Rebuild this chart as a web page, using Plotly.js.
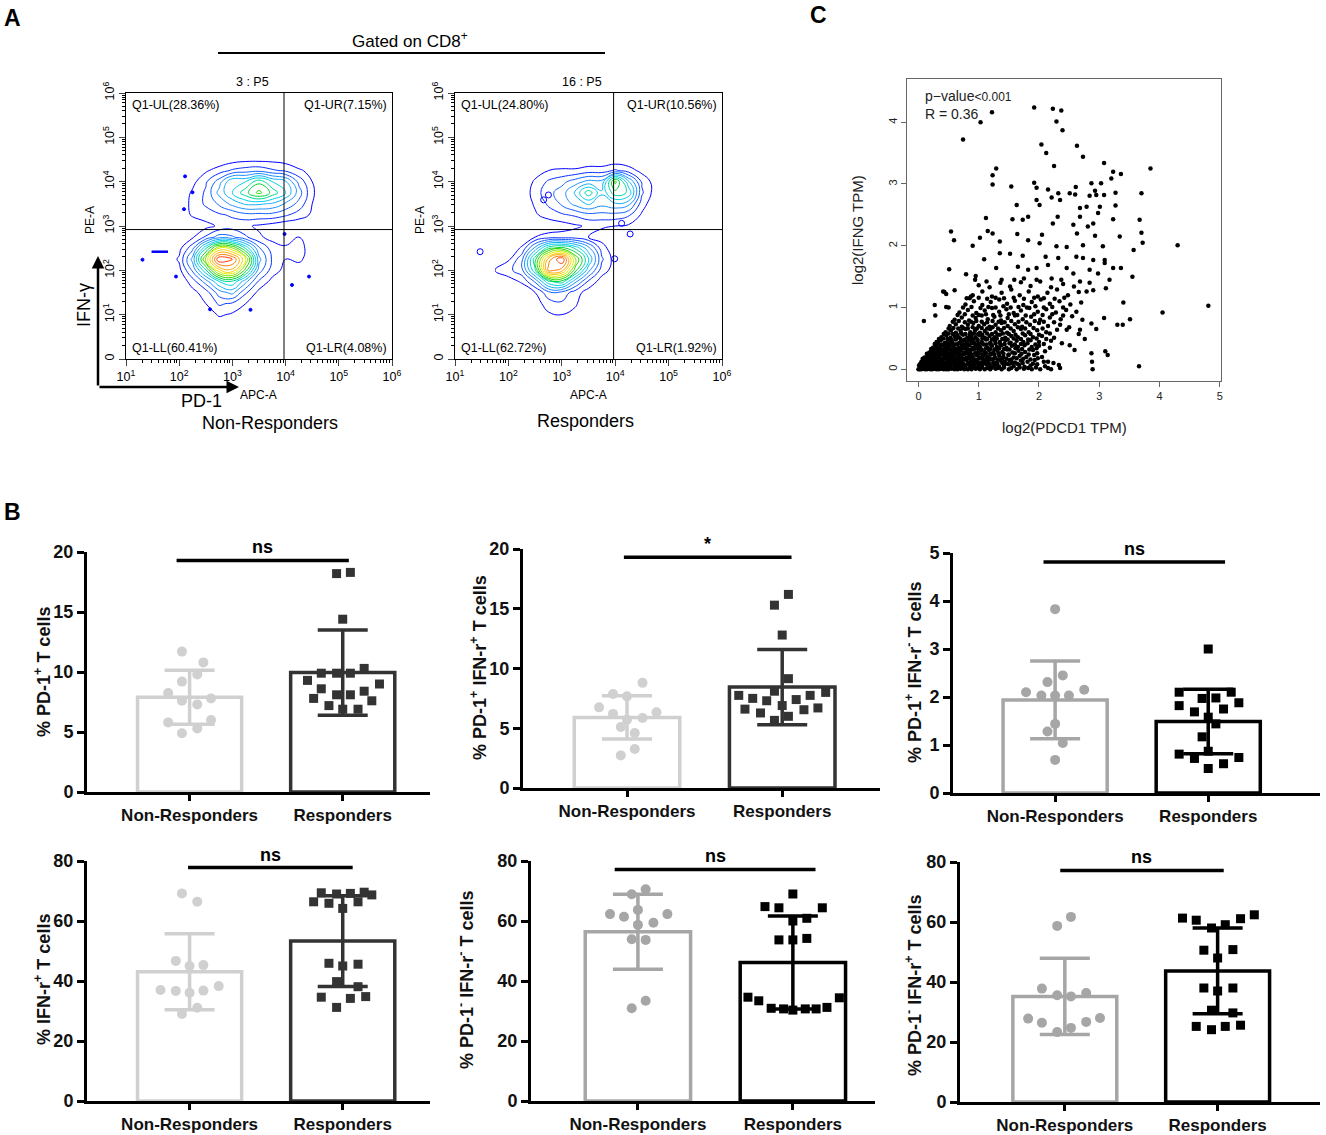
<!DOCTYPE html>
<html><head><meta charset="utf-8">
<script src="https://cdn.plot.ly/plotly-3.0.1.min.js"></script>
<style>body{margin:0;background:#fff}#chart{width:1326px;height:1135px}</style>
</head><body><div id="chart"></div>
<script>
// ===================== DATA =====================
// Panel A: flow cytometry density grids (log10 decades)
const flowLogX = [1.75,2,2.25,2.5,2.75,3,3.25,3.5,3.75,4,4.25,4.5,4.75];
const flowLogY = [0.75,1,1.25,1.5,1.75,2,2.25,2.5,2.75,3,3.25,3.5,3.75,4,4.25,4.5,4.75];
const nrDensity = [
 [0,0,0,0,0,0,0,0,0,0,0,0,0],
 [0,0,0,0,0.6,0.4,0,0,0,0,0,0,0],
 [0,0,0,0.5,1.2,1.0,0.5,0,0,0,0,0,0],
 [0,0,0.3,0.8,2.0,2.5,1.2,0.3,0,0,0,0,0],
 [0,0,0.8,2.0,3.5,4.0,2.5,1.0,0.3,0,0,0,0],
 [0,0.3,1.8,4.0,7.0,7.5,5.0,2.0,0.8,0.3,0,0,0],
 [0,0.6,2.5,6.0,9.5,9.0,6.5,2.5,1.0,0.5,0.7,0,0],
 [0,0.3,1.5,4.0,6.5,6.0,4.0,1.8,0.8,0.6,0.9,0,0],
 [0,0,0.4,1.2,2.0,1.8,1.2,0.6,0.3,0.2,0.5,0,0],
 [0,0,0,0.3,0.6,0.8,0.6,0.4,0.2,0,0,0,0],
 [0,0,0.6,0.8,1.0,1.2,1.5,1.5,1.5,1.2,0.8,0.4,0],
 [0,0,0.7,1.2,1.8,2.5,3.0,3.0,2.8,2.2,1.5,0.5,0],
 [0,0,0.6,1.2,2.5,3.5,4.5,5.5,4.5,3.5,2.0,0.6,0],
 [0,0,0.3,1.0,2.0,3.5,3.5,4.5,3.5,3.0,1.5,0.5,0],
 [0,0,0,0.4,0.8,1.2,1.4,1.5,1.2,1.0,0.6,0.3,0],
 [0,0,0,0,0,0.2,0.3,0.3,0.3,0.2,0,0,0],
 [0,0,0,0,0,0,0,0,0,0,0,0,0]
];
const rDensity = [
 [0,0,0,0,0,0,0,0,0,0,0,0,0],
 [0,0,0,0,0.4,0.5,0.3,0,0,0,0,0,0],
 [0,0,0,0.2,0.8,1.0,0.6,0,0,0,0,0,0],
 [0,0,0,0.5,1.5,1.5,0.8,0.2,0,0,0,0,0],
 [0,0.2,0.6,1.8,4.0,4.5,2.5,1.0,0.2,0,0,0,0],
 [0.5,0.9,1.5,4.0,8.5,8.0,5.0,2.5,0.8,0.2,0,0,0],
 [0,0.4,1.5,4.5,8.0,9.5,6.0,3.5,1.2,0.2,0,0,0],
 [0,0,0.6,2.5,4.5,5.0,4.0,2.5,0.8,0,0,0,0],
 [0,0,0,0.5,0.8,0.8,0.8,0.5,0.2,0,0,0,0],
 [0,0,0,0,0,0.2,0.4,0.6,0.6,0.5,0.4,0,0],
 [0,0,0,0.4,0.8,1.0,1.2,1.5,1.5,1.5,1.2,0.4,0],
 [0,0,0,0.6,1.2,1.8,2.5,3.0,2.5,2.8,2.5,0.8,0],
 [0,0,0,0.8,1.5,2.0,3.0,4.5,3.0,4.5,4.0,1.2,0.2],
 [0,0,0,0.6,1.2,1.5,2.0,2.5,2.5,5.5,3.0,1.0,0.2],
 [0,0,0,0.2,0.5,0.6,0.6,0.8,0.8,1.2,0.8,0.3,0],
 [0,0,0,0,0,0,0,0,0,0,0,0,0],
 [0,0,0,0,0,0,0,0,0,0,0,0,0]
];
const nrStrayX = [2.11,2.25,2.09,1.31,1.94,2.58,3.34,4.12,4.44,3.98];
const nrStrayY = [4.12,3.76,3.38,2.24,1.86,1.12,1.11,1.67,1.86,2.82];
const nrDashX = [1.48,1.79];
const nrDashY = [2.42,2.42];
const rStrayX = [1.47,3.99,4.28,2.66,2.75,4.12];
const rStrayY = [2.42,2.26,2.82,3.59,3.70,3.06];
const nrQuadLabels = ['Q1-UL(28.36%)','Q1-UR(7.15%)','Q1-LL(60.41%)','Q1-LR(4.08%)'];
const rQuadLabels  = ['Q1-UL(24.80%)','Q1-UR(10.56%)','Q1-LL(62.72%)','Q1-LR(1.92%)'];
const flowTitles = ['3 : P5','16 : P5'];
const flowGroupNames = ['Non-Responders','Responders'];
const flowXTickVals = [1,2,3,4,5,6];
const flowXTickText = ['10<sup>1</sup>','10<sup>2</sup>','10<sup>3</sup>','10<sup>4</sup>','10<sup>5</sup>','10<sup>6</sup>'];
const flowYTickVals = [0,1,2,3,4,5,6];
const flowYTickText = ['0','10<sup>1</sup>','10<sup>2</sup>','10<sup>3</sup>','10<sup>4</sup>','10<sup>5</sup>','10<sup>6</sup>'];

// Panel C: log2(PDCD1 TPM) vs log2(IFNG TPM)
const scatterPairs = [
[0,0],[0.02,0],[0.05,0],[0.08,0.01],[0.11,0],[0.14,0],[0.17,0.01],[0.2,0],[0.23,0],[0.27,0.01],[0.3,0],[0.34,0],[0.38,0.01],[0.42,0],[0.46,0],[0.5,0],[0.55,0.01],[0.6,0],[0.65,0],[0.7,0.01],[0.76,0],[0.82,0],[0.88,0],[0.95,0.01],[1.02,0],[1.1,0],[1.19,0],[1.28,0.01],[1.38,0],[1.5,0],[1.63,0],[1.75,0.01],[1.88,0],[2.02,0],[2.2,0],[2.35,0.02],
[0.03,0.03],[0.09,0.02],[0.15,0.03],[0.21,0.02],[0.28,0.03],[0.35,0.02],[0.41,0.03],[0.47,0.02],[0.53,0.03],[0.59,0.02],[0.64,0.03],[0.7,0.02],[0.78,0.03],[0.85,0.02],[0.91,0.03],[0.98,0.02],[1.05,0.03],[1.14,0.02],[1.23,0.03],[1.32,0.02],[1.42,0.03],[1.54,0.02],[1.68,0.03],[1.82,0.02],[1.95,0.03],
[0.01,0.06],[0.04,0.04],[0.07,0.07],[0.1,0.05],[0.13,0.08],[0.16,0.04],[0.19,0.06],[0.22,0.08],[0.25,0.05],[0.29,0.07],[0.33,0.04],[0.36,0.08],[0.4,0.05],[0.44,0.07],[0.48,0.04],[0.52,0.06],[0.57,0.08],[0.61,0.05],[0.66,0.07],[0.71,0.04],[0.76,0.06],[0.81,0.08],[0.87,0.05],[0.93,0.07],[0.99,0.04],[1.06,0.06],[1.13,0.08],[1.2,0.05],[1.27,0.07],[1.34,0.04],[1.42,0.06],[1.5,0.08],[1.58,0.05],[1.67,0.07],[1.76,0.04],[1.86,0.06],[1.97,0.08],[2.1,0.05],
[0.03,0.09],[0.08,0.1],[0.14,0.09],[0.2,0.1],[0.26,0.09],[0.31,0.1],[0.38,0.09],[0.43,0.1],[0.5,0.09],[0.55,0.1],[0.6,0.09],[0.69,0.1],[0.74,0.09],[0.84,0.1],[0.9,0.09],[0.96,0.1],[1.01,0.09],[1.09,0.1],[1.17,0.09],[1.24,0.1],[1.31,0.09],[1.39,0.1],[1.47,0.09],[1.55,0.1],[1.64,0.09],[1.73,0.1],[1.9,0.09],
[0.05,0.12],[0.09,0.15],[0.12,0.11],[0.16,0.14],[0.2,0.12],[0.24,0.15],[0.28,0.11],[0.32,0.14],[0.36,0.12],[0.4,0.16],[0.44,0.11],[0.48,0.14],[0.53,0.12],[0.58,0.15],[0.62,0.11],[0.67,0.14],[0.72,0.12],[0.77,0.16],[0.82,0.11],[0.87,0.14],[0.92,0.12],[0.98,0.15],[1.04,0.11],[1.1,0.14],[1.16,0.12],[1.22,0.16],[1.29,0.11],[1.36,0.14],[1.43,0.12],[1.51,0.15],[1.6,0.11],[1.7,0.14],[1.81,0.12],[1.93,0.15],[2.08,0.12],[2.24,0.1],
[0.07,0.17],[0.13,0.18],[0.18,0.16],[0.22,0.17],[0.26,0.16],[0.3,0.18],[0.34,0.17],[0.38,0.16],[0.42,0.18],[0.46,0.17],[0.5,0.16],[0.55,0.18],[0.6,0.17],[0.64,0.16],[0.69,0.18],[0.74,0.17],[0.79,0.16],[0.84,0.18],[0.89,0.17],[0.94,0.16],[1.0,0.18],[1.06,0.17],[1.12,0.16],[1.18,0.18],[1.25,0.17],[1.32,0.16],[1.39,0.18],[1.46,0.17],[1.54,0.16],[1.63,0.18],[1.74,0.17],[1.86,0.16],[1.98,0.18],
[0.1,0.19],[0.15,0.22],[0.19,0.2],[0.23,0.23],[0.27,0.19],[0.31,0.22],[0.35,0.2],[0.39,0.24],[0.43,0.19],[0.47,0.22],[0.51,0.2],[0.56,0.23],[0.6,0.19],[0.65,0.22],[0.7,0.2],[0.75,0.24],[0.8,0.19],[0.85,0.22],[0.9,0.2],[0.96,0.23],[1.02,0.19],[1.08,0.22],[1.14,0.2],[1.2,0.24],[1.27,0.19],[1.34,0.22],[1.41,0.2],[1.49,0.23],[1.58,0.19],[1.68,0.22],[1.79,0.2],[1.92,0.23],[2.05,0.2],
[0.14,0.25],[0.2,0.26],[0.25,0.24],[0.29,0.25],[0.34,0.26],[0.39,0.25],[0.44,0.24],[0.49,0.26],[0.53,0.25],[0.58,0.24],[0.63,0.26],[0.68,0.25],[0.73,0.24],[0.78,0.26],[0.83,0.25],[0.88,0.24],[0.94,0.26],[1.0,0.25],[1.06,0.24],[1.12,0.26],[1.19,0.25],[1.26,0.24],[1.33,0.26],[1.41,0.25],[1.5,0.24],[1.6,0.26],[1.71,0.25],[1.83,0.24],[1.97,0.26],
[0.18,0.27],[0.22,0.3],[0.27,0.28],[0.32,0.31],[0.37,0.27],[0.42,0.3],[0.46,0.28],[0.5,0.32],[0.55,0.27],[0.6,0.3],[0.65,0.28],[0.7,0.31],[0.75,0.27],[0.8,0.3],[0.86,0.28],[0.92,0.32],[0.98,0.27],[1.04,0.3],[1.1,0.28],[1.17,0.31],[1.24,0.27],[1.31,0.3],[1.39,0.28],[1.47,0.32],[1.56,0.27],[1.66,0.3],[1.77,0.28],[1.9,0.31],[2.1,0.29],
[0.21,0.33],[0.27,0.34],[0.33,0.33],[0.39,0.32],[0.44,0.34],[0.49,0.33],[0.54,0.32],[0.59,0.34],[0.64,0.33],[0.69,0.32],[0.75,0.34],[0.81,0.33],[0.87,0.32],[0.93,0.34],[0.99,0.33],[1.05,0.32],[1.12,0.34],[1.19,0.33],[1.26,0.32],[1.34,0.34],[1.42,0.33],[1.51,0.32],[1.61,0.34],[1.72,0.33],[1.84,0.32],[1.96,0.34],
[0.24,0.35],[0.3,0.38],[0.36,0.36],[0.41,0.39],[0.46,0.35],[0.51,0.38],[0.57,0.36],[0.62,0.4],[0.67,0.35],[0.72,0.38],[0.78,0.36],[0.84,0.39],[0.9,0.35],[0.96,0.38],[1.02,0.36],[1.08,0.4],[1.15,0.35],[1.22,0.38],[1.3,0.36],[1.38,0.39],[1.46,0.35],[1.55,0.38],[1.65,0.36],[1.76,0.39],[1.88,0.36],[2.0,0.38],[2.18,0.35],
[0.27,0.41],[0.33,0.42],[0.39,0.4],[0.47,0.41],[0.53,0.42],[0.59,0.4],[0.65,0.41],[0.7,0.42],[0.76,0.4],[0.82,0.41],[0.88,0.42],[0.94,0.4],[1.0,0.41],[1.06,0.42],[1.13,0.4],[1.2,0.41],[1.28,0.42],[1.36,0.4],[1.43,0.41],[1.51,0.42],[1.6,0.4],[1.7,0.41],[1.81,0.42],[1.94,0.4],[2.08,0.41],
[0.3,0.44],[0.37,0.47],[0.44,0.43],[0.5,0.46],[0.56,0.44],[0.62,0.48],[0.68,0.43],[0.74,0.46],[0.8,0.44],[0.86,0.47],[0.92,0.43],[0.98,0.46],[1.05,0.44],[1.12,0.48],[1.19,0.43],[1.27,0.46],[1.35,0.44],[1.44,0.47],[1.53,0.43],[1.63,0.46],[1.74,0.44],[1.86,0.47],[2.0,0.44],[2.2,0.46],[2.38,0.42],
[0.34,0.49],[0.41,0.5],[0.48,0.49],[0.55,0.48],[0.62,0.5],[0.7,0.49],[0.77,0.48],[0.84,0.5],[0.91,0.49],[0.98,0.48],[1.06,0.5],[1.14,0.49],[1.22,0.48],[1.3,0.5],[1.39,0.49],[1.48,0.48],[1.58,0.5],[1.7,0.49],[1.82,0.48],[1.96,0.5],[2.12,0.49],
[0.38,0.52],[0.46,0.55],[0.53,0.51],[0.6,0.54],[0.67,0.52],[0.74,0.56],[0.81,0.51],[0.88,0.54],[0.95,0.52],[1.02,0.55],[1.1,0.51],[1.18,0.54],[1.26,0.52],[1.35,0.56],[1.44,0.51],[1.54,0.54],[1.65,0.52],[1.77,0.55],[1.9,0.52],[2.05,0.54],[2.25,0.51],
[0.42,0.57],[0.5,0.58],[0.57,0.57],[0.64,0.56],[0.71,0.58],[0.78,0.57],[0.85,0.56],[0.92,0.58],[0.99,0.57],[1.06,0.56],[1.14,0.58],[1.22,0.57],[1.31,0.56],[1.4,0.58],[1.5,0.57],[1.61,0.56],[1.73,0.58],[1.86,0.57],[2.0,0.56],[2.18,0.58],
[0.45,0.6],[0.54,0.63],[0.62,0.59],[0.7,0.62],[0.78,0.65],[0.86,0.6],[0.94,0.63],[1.02,0.59],[1.1,0.62],[1.19,0.65],[1.28,0.6],[1.37,0.63],[1.47,0.59],[1.58,0.62],[1.7,0.65],[1.83,0.6],[1.97,0.63],[2.12,0.6],[2.3,0.64],
[0.5,0.66],[0.58,0.67],[0.66,0.66],[0.74,0.67],[0.82,0.66],[0.9,0.68],[0.97,0.66],[1.05,0.67],[1.14,0.66],[1.23,0.68],[1.32,0.66],[1.42,0.67],[1.53,0.66],[1.65,0.68],[1.77,0.66],[1.91,0.67],[2.06,0.66],
[0.52,0.7],[0.62,0.73],[0.72,0.69],[0.82,0.72],[0.91,0.75],[1.0,0.7],[1.09,0.73],[1.18,0.69],[1.28,0.72],[1.38,0.75],[1.48,0.7],[1.6,0.73],[1.72,0.69],[1.85,0.72],[2.0,0.75],[2.15,0.7],[2.35,0.72],[2.5,0.68],
[0.57,0.77],[0.67,0.78],[0.77,0.76],[0.87,0.77],[0.96,0.78],[1.05,0.77],[1.14,0.76],[1.23,0.78],[1.33,0.77],[1.43,0.76],[1.54,0.78],[1.66,0.77],[1.79,0.76],[1.93,0.78],[2.08,0.77],[2.25,0.76],
[0.6,0.8],[0.72,0.84],[0.84,0.79],[0.95,0.83],[1.05,0.87],[1.15,0.81],[1.26,0.85],[1.37,0.79],[1.48,0.83],[1.6,0.87],[1.73,0.81],[1.87,0.85],[2.02,0.8],[2.18,0.84],[2.36,0.81],[2.55,0.86],
[0.65,0.88],[0.77,0.89],[0.9,0.87],[1.0,0.88],[1.12,0.89],[1.24,0.88],[1.36,0.87],[1.5,0.89],[1.64,0.88],[1.78,0.87],[1.92,0.89],[2.06,0.88],[2.22,0.89],[2.4,0.87],
[0.68,0.92],[0.82,0.96],[0.96,0.91],[1.1,0.95],[1.22,0.99],[1.34,0.93],[1.46,0.97],[1.58,0.91],[1.7,0.95],[1.84,0.99],[1.98,0.93],[2.12,0.97],[2.28,0.92],[2.45,0.96],[2.62,0.93],
[0.74,1.0],[0.88,1.01],[1.03,0.99],[1.16,1.01],[1.28,1.0],[1.41,1.02],[1.53,1.0],[1.66,1.01],[1.8,1.0],[1.94,1.02],[2.08,1.0],[2.22,1.01],[2.4,1.0],
[0.78,1.05],[0.92,1.1],[1.06,1.04],[1.2,1.09],[1.34,1.13],[1.47,1.06],[1.6,1.11],[1.74,1.04],[1.88,1.09],[2.03,1.13],[2.18,1.06],[2.34,1.1],[2.52,1.05],[2.7,1.08],
[0.85,1.15],[1.0,1.16],[1.14,1.14],[1.28,1.16],[1.42,1.15],[1.58,1.16],[1.75,1.14],[1.92,1.16],[2.08,1.15],[2.26,1.14],[2.42,1.16],
[0.9,1.2],[1.06,1.26],[1.22,1.18],[1.38,1.24],[1.54,1.29],[1.68,1.2],[1.83,1.26],[1.98,1.18],[2.14,1.24],[2.3,1.29],[2.48,1.2],[2.66,1.25],
[1.0,1.36],[1.18,1.33],[1.36,1.4],[1.52,1.34],[1.7,1.41],[1.86,1.35],[2.02,1.42],[2.2,1.33],[2.4,1.38],[2.58,1.34],
[1.92,4.24],[2.23,4.22],[2.37,4.19],[1.22,4.16],[1.03,4.0],[2.29,4.01],[2.39,3.87],[0.74,3.72],[2.04,3.64],[2.12,3.5],[2.63,3.62],[2.73,3.44],[2.25,3.29],[3.08,3.34],[1.29,3.25],[3.85,3.25],[1.23,3.14],[1.23,2.99],[3.23,3.2],[3.36,3.16],[3.2,3.09],[1.92,3.02],[1.54,2.96],[1.96,2.94],[2.15,2.91],[2.61,2.95],[2.87,3.01],[3.03,3.01],[2.93,2.89],[2.51,2.85],[2.32,2.85],[2.35,2.74],[2.21,2.78],[2.6,2.83],[2.84,2.81],[2.95,2.82],[3.08,2.82],[3.27,2.86],[3.7,2.85],[1.96,2.74],[2.01,2.66],[1.63,2.66],[2.79,2.63],[3.01,2.63],[3.27,2.65],[2.68,2.47],[2.98,2.53],[1.12,2.45],[1.56,2.43],[1.73,2.42],[2.31,2.47],[1.82,2.47],[2.68,2.61],[2.9,2.36],[3.23,2.43],[3.67,2.42],[2.23,2.36],[2.57,2.34],[2.81,2.31],[1.15,2.24],[1.64,2.19],[1.23,2.2],[3.7,2.21],[0.54,2.23],[2.05,2.18],[2.63,2.2],[2.93,2.16],[3.34,2.15],[0.59,2.09],[1.02,2.13],[3.72,2.05],[4.3,2.01],[3.57,1.93],[0.9,2.0],[1.35,2.07],[1.82,2.09],[2.01,2.04],[2.29,1.99],[2.46,1.98],[2.73,2.01],[3.06,1.99],[1.35,1.88],[1.52,1.87],[1.73,1.84],[1.09,1.78],[2.11,1.82],[2.32,1.8],[2.62,1.82],[2.73,1.8],[3.09,1.77],[3.09,1.72],[2.9,1.77],[3.36,1.64],[3.23,1.64],[0.51,1.62],[1.29,1.64],[1.65,1.66],[1.82,1.61],[1.96,1.64],[2.15,1.69],[2.46,1.64],[2.57,1.55],[2.84,1.61],[2.98,1.55],[3.55,1.5],[0.79,1.54],[0.95,1.51],[0.94,1.45],[1.13,1.42],[1.38,1.45],[1.59,1.45],[1.75,1.47],[1.96,1.45],[2.21,1.47],[2.37,1.45],[2.68,1.42],[2.84,1.4],[3.17,1.45],[0.6,1.28],[0.41,1.26],[0.46,1.22],[3.11,1.31],[2.79,1.26],[2.9,1.28],[0.8,1.15],[0.87,1.18],[3.4,1.08],[4.81,1.03],[4.05,0.92],[0.46,1.01],[0.27,1.04],[3.08,0.83],[3.51,0.81],[3.39,0.72],[2.87,0.74],[3.3,0.72],[2.72,0.8],[2.68,0.64],[2.66,0.57],[2.76,0.49],[2.95,0.65],[2.46,0.64],[2.51,0.39],[2.59,0.31],[2.87,0.26],[3.1,0.29],[3.14,0.23],[2.88,0.12],[2.15,0.12],[2.33,0.07],[2.15,0.02],[3.66,0.05],[2.89,0.0],[0.09,0.78],[0.28,0.87],[0.43,1.25],[0.5,1.0]
];

// Panel B: per-patient percentages (NR = Non-Responders, R = Responders)
const groups = ['Non-Responders','Responders'];
const pd1PosNR = [11.7,10.8,9.8,9.2,8.25,7.6,7.8,7.3,5.8,6.0,4.9,5.3];
const pd1PosR  = [18.2,18.3,14.4,9.9,9.9,9.9,10.3,9.3,9.0,8.6,7.8,8.1,8.1,8.4,7.6,7.2,6.9,6.9];
const pd1PosMean = [7.9,9.95], pd1PosSD = [2.25,3.55];

const pd1PosIfnPosNR = [7.87,7.67,8.8,6.75,6.2,6.33,5.72,5.86,5.1,4.6,3.26,2.73];
const pd1PosIfnPosR  = [16.2,15.3,12.8,9.15,7.75,7.5,7.3,8.1,7.4,7.75,8.0,6.6,6.28,6.9,6.55,6.7,5.66,6.0];
const pd1PosIfnPosMean = [5.9,8.45], pd1PosIfnPosSD = [1.81,3.15];

const pd1PosIfnNegNR = [3.83,2.45,2.31,2.10,2.03,2.03,2.03,2.15,1.44,1.28,1.04,0.69];
const pd1PosIfnNegR  = [3.0,2.10,2.10,1.97,1.98,1.82,1.88,1.69,1.75,1.58,1.44,1.17,0.81,0.87,0.72,0.74,0.61,0.51];
const pd1PosIfnNegMean = [1.94,1.49], pd1PosIfnNegSD = [0.81,0.67];

const ifnPosNR = [69.2,66.4,46.7,45,45.3,37,36.7,36.1,36.8,38.3,31.1,29];
const ifnPosR  = [66.4,69.4,69,69.2,69.6,65.9,66.4,68.7,64.2,45.9,45,45.6,39.8,38.1,34.6,34.2,34.8,31.2];
const ifnPosMean = [43.1,53.3], ifnPosSD = [12.65,15.1];

const pd1NegIfnNegNR = [70.6,68.9,63.7,62.3,61.4,62.3,59.4,58.7,53.9,53.7,33.4,30.9];
const pd1NegIfnNegR  = [69,64.8,64.4,64.4,60,60.9,53.7,53.7,54.2,34.6,33.4,30.9,30.7,30.3,30.7,30.7,31.2,34.4];
const pd1NegIfnNegMean = [56.4,46.2], pd1NegIfnNegSD = [12.5,15.5];

const pd1NegIfnPosNR = [61.7,58.7,37.8,35.6,35.2,36.3,27.8,26.4,26.7,28,23.3,24.7];
const pd1NegIfnPosR  = [61.3,60.6,58,59.1,61.1,62.4,50.6,50.8,48,38,37,38,30.6,29.7,25.2,24.1,25.2,25.6];
const pd1NegIfnPosMean = [35.2,43.7], pd1NegIfnPosSD = [12.7,14.3];

const sigLabels = ['ns','*','ns','ns','ns','ns'];
const yTitles = ['% PD-1<sup>+</sup> T cells','% PD-1<sup>+</sup> IFN-r<sup>+</sup> T cells','% PD-1<sup>+</sup> IFN-r<sup>-</sup> T cells',
                 '% IFN-r<sup>+</sup> T cells','% PD-1<sup>-</sup> IFN-r<sup>-</sup> T cells','% PD-1<sup>-</sup> IFN-r<sup>+</sup> T cells'];

// ===================== LAYOUT / STYLE =====================
const W=1326, H=1135;
const fx = p => p/W, fy = p => 1 - p/H;
const FONT = 'Liberation Sans, Arial, Helvetica, sans-serif';

// dot horizontal scatter offsets (category units), styling only
const jit = [
 {nr:[-0.05,0.09,0.05,-0.05,-0.14,-0.05,0.14,0.05,-0.14,0.14,-0.05,0.05],
  r:[-0.04,0.05,0,-0.14,-0.04,0.05,0.14,-0.23,0.24,-0.14,-0.19,-0.04,0.05,0.14,0.19,-0.09,0,0.1]},
 {nr:[-0.09,0,0.1,-0.18,-0.09,0.19,0,0.1,-0.04,0.05,0.05,-0.04],
  r:[0.04,-0.05,0,0.04,-0.28,-0.19,-0.1,-0.05,0.09,0.18,0.28,-0.24,-0.14,0,0.14,0.23,-0.05,0.04]},
 {nr:[0,0.05,-0.05,-0.19,-0.09,0,0.09,0.19,0,-0.05,0.05,0],
  r:[0,-0.19,0.15,-0.04,0.05,-0.19,0.2,-0.09,0.1,0,0.05,-0.04,-0.19,0,-0.09,0.2,0.1,0]},
 {nr:[-0.05,0.05,-0.09,0,0.09,-0.19,-0.09,0,0.09,0.19,0.05,-0.05],
  r:[-0.19,-0.14,-0.04,0.05,0.14,-0.09,0.1,0.19,0,-0.09,0,0.1,-0.04,0.1,-0.14,0.05,0.15,-0.04]},
 {nr:[0.05,-0.04,0,-0.18,-0.09,0.19,0.1,0,-0.04,0.05,0.05,-0.04],
  r:[0,-0.18,-0.09,0.19,0,0.09,-0.09,0,0.09,-0.29,-0.22,-0.14,-0.06,0,0.08,0.15,0.22,0.3]},
 {nr:[0.04,-0.05,-0.15,-0.05,0.04,0.14,-0.24,-0.15,0.14,0.23,-0.05,0.04],
  r:[-0.23,-0.14,-0.04,0.05,0.15,0.24,-0.09,0.1,0,-0.09,0,0.1,-0.04,0.1,-0.14,-0.04,0.05,0.15]}
];

const barData = [
 {nr:pd1PosNR, r:pd1PosR, mean:pd1PosMean, sd:pd1PosSD, sigY:19.3},
 {nr:pd1PosIfnPosNR, r:pd1PosIfnPosR, mean:pd1PosIfnPosMean, sd:pd1PosIfnPosSD, sigY:19.3},
 {nr:pd1PosIfnNegNR, r:pd1PosIfnNegR, mean:pd1PosIfnNegMean, sd:pd1PosIfnNegSD, sigY:4.81},
 {nr:ifnPosNR, r:ifnPosR, mean:ifnPosMean, sd:ifnPosSD, sigY:77.8},
 {nr:pd1NegIfnNegNR, r:pd1NegIfnNegR, mean:pd1NegIfnNegMean, sd:pd1NegIfnNegSD, sigY:77.2},
 {nr:pd1NegIfnPosNR, r:pd1NegIfnPosR, mean:pd1NegIfnPosMean, sd:pd1NegIfnPosSD, sigY:77.2}
];
const barCfg = [
 {n:4, xd:[87,430],  yd:[552,792],  xr:[-0.67,1.57],  yr:[0,20], dt:5,  col:['#d0d0d0','#333333'], sx:[-0.085,1.04], tt:[42,672]},
 {n:5, xd:[523,880], yd:[549,788],  xr:[-0.67,1.63],  yr:[0,20], dt:5,  col:['#d0d0d0','#333333'], sx:[-0.02,1.06],  tt:[478,668]},
 {n:6, xd:[953,1320],yd:[553,793],  xr:[-0.667,1.73], yr:[0,5],  dt:1,  col:['#a6a6a6','#000000'], sx:[-0.076,1.11], tt:[913,672]},
 {n:7, xd:[87,430],  yd:[861,1101], xr:[-0.67,1.57],  yr:[0,80], dt:20, col:['#d0d0d0','#333333'], sx:[-0.01,1.065], tt:[42,980]},
 {n:8, xd:[531,875], yd:[861,1101], xr:[-0.69,1.53],  yr:[0,80], dt:20, col:['#a6a6a6','#000000'], sx:[-0.15,1.146], tt:[465,980]},
 {n:9, xd:[960,1320],yd:[862,1102], xr:[-0.686,1.67], yr:[0,80], dt:20, col:['#a6a6a6','#000000'], sx:[-0.03,1.04],  tt:[913,985]}
];

const traces = [];
const layout = {
  width:W, height:H, margin:{l:0,r:0,t:0,b:0}, showlegend:false,
  paper_bgcolor:'#fff', plot_bgcolor:'rgba(0,0,0,0)',
  font:{family:FONT, color:'#000'}, shapes:[], annotations:[]
};
const ann = a => layout.annotations.push(Object.assign({xref:'paper',yref:'paper',showarrow:false,xanchor:'center',yanchor:'middle'}, a));

// ---------- Panel A: flow plots ----------
const minorX = [], minorY = [];
for (let d=0; d<6; d++) for (let k=2; k<10; k++) { const v = d+Math.log10(k); if (d>=1) minorX.push(v); minorY.push(v); }
const flowCS = [[0,'#0000ff'],[0.2,'#1e90ff'],[0.35,'#00d8e8'],[0.5,'#00d000'],[0.68,'#f0f000'],[0.85,'#ff8c00'],[1,'#ff0000']];
const flowPanels = [
  {ax:'', z:nrDensity, xd:[126,392], sx:nrStrayX, sy:nrStrayY, ql:nrQuadLabels, t:flowTitles[0], cx:252, apc:258, pe:90, name:flowGroupNames[0], nameX:270, nameY:423},
  {ax:'2', z:rDensity, xd:[455,722], sx:rStrayX, sy:rStrayY, ql:rQuadLabels, t:flowTitles[1], cx:582, apc:588, pe:420, name:flowGroupNames[1], nameX:585, nameY:421}
];
flowPanels.forEach((p,i) => {
  const xa='x'+p.ax, ya='y'+p.ax;
  traces.push({type:'contour', x:flowLogX, y:flowLogY, z:p.z, xaxis:xa, yaxis:ya,
    contours:{coloring:'lines', start:0.5, end:10, size:0.6}, line:{width:1, smoothing:1.3},
    colorscale:flowCS, zauto:false, zmin:0.5, zmax:10, showscale:false, hoverinfo:'skip'});
  traces.push({type:'scatter', mode:'markers', x:p.sx, y:p.sy, xaxis:xa, yaxis:ya,
    marker:{size: i===0?3:6, color:'#0000ff', symbol: i===0?'circle':'circle-open', line:{width:1,color:'#0000ff'}}, hoverinfo:'skip'});
  if (i===0) traces.push({type:'scatter', mode:'lines', x:nrDashX, y:nrDashY, xaxis:xa, yaxis:ya, line:{color:'#0000ff', width:2.5}, hoverinfo:'skip'});
  layout['xaxis'+p.ax] = {domain:[fx(p.xd[0]),fx(p.xd[1])], anchor:ya, range:[1,6], tickvals:flowXTickVals, ticktext:flowXTickText,
    showline:true, mirror:true, linecolor:'#000', linewidth:1, ticks:'outside', ticklen:6, tickwidth:1, showgrid:false, zeroline:false,
    tickfont:{size:12.5, family:FONT}, minor:{tickvals:minorX, ticks:'outside', ticklen:3, tickwidth:1, tickcolor:'#000'}};
  layout['yaxis'+p.ax] = {domain:[fy(359),fy(93)], anchor:xa, range:[0,6], tickvals:flowYTickVals, ticktext:flowYTickText, tickangle:-90,
    showline:true, mirror:true, linecolor:'#000', linewidth:1, ticks:'outside', ticklen:6, tickwidth:1, showgrid:false, zeroline:false,
    tickfont:{size:12.5, family:FONT}, minor:{tickvals:minorY, ticks:'outside', ticklen:3, tickwidth:1, tickcolor:'#000'}};
  layout.shapes.push({type:'line', xref:xa, yref:ya, x0:3.97, x1:3.97, y0:0, y1:6, line:{color:'#000', width:1}});
  layout.shapes.push({type:'line', xref:xa, yref:ya, x0:1, x1:6, y0:2.92, y1:2.92, line:{color:'#000', width:1}});
  const L = p.xd[0]+4, R = p.xd[1]-3;
  ann({x:fx(L), y:fy(105), xanchor:'left', text:p.ql[0], font:{size:12.5}});
  ann({x:fx(R), y:fy(105), xanchor:'right', text:p.ql[1], font:{size:12.5}});
  ann({x:fx(L), y:fy(348), xanchor:'left', text:p.ql[2], font:{size:12.5}});
  ann({x:fx(R), y:fy(348), xanchor:'right', text:p.ql[3], font:{size:12.5}});
  ann({x:fx(p.cx), y:fy(82), text:p.t, font:{size:12.5}});
  ann({x:fx(p.apc), y:fy(395), text:'APC-A', font:{size:12}});
  ann({x:fx(p.pe), y:fy(220), text:'PE-A', textangle:-90, font:{size:12}});
  ann({x:fx(p.nameX), y:fy(p.nameY), text:p.name, font:{size:18}});
});
ann({x:fx(410), y:fy(40), text:'Gated on CD8<sup>+</sup>', font:{size:17}});
layout.shapes.push({type:'line', xref:'paper', yref:'paper', x0:fx(218), x1:fx(605), y0:fy(53), y1:fy(53), line:{color:'#000', width:2}});
ann({x:fx(84), y:fy(305), text:'IFN-γ', textangle:-90, font:{size:18}});
ann({x:fx(202), y:fy(401), text:'PD-1', font:{size:18}});
ann({x:fx(98), y:fy(256), text:'', showarrow:true, ax:0, ay:131, arrowhead:2, arrowsize:1, arrowwidth:2.5, arrowcolor:'#000'});
ann({x:fx(239), y:fy(387), text:'', showarrow:true, ax:-141, ay:0, arrowhead:2, arrowsize:1, arrowwidth:2.5, arrowcolor:'#000'});

// ---------- Panel C: scatter ----------
traces.push({type:'scatter', mode:'markers', x:scatterPairs.map(p=>p[0]), y:scatterPairs.map(p=>p[1]), xaxis:'x3', yaxis:'y3',
  marker:{size:4.5, color:'#000'}, hoverinfo:'skip'});
layout.xaxis3 = {domain:[fx(907),fx(1221)], anchor:'y3', range:[-0.19,5.02], dtick:1, tick0:0,
  showline:true, mirror:true, linecolor:'#666', linewidth:1, ticks:'outside', ticklen:5, tickcolor:'#666', showgrid:false, zeroline:false,
  tickfont:{size:11, color:'#222'}};
layout.yaxis3 = {domain:[fy(381),fy(79)], anchor:'x3', range:[-0.19,4.7], dtick:1, tick0:0, tickangle:-90,
  showline:true, mirror:true, linecolor:'#666', linewidth:1, ticks:'outside', ticklen:5, tickcolor:'#666', showgrid:false, zeroline:false,
  tickfont:{size:11, color:'#222'}};
ann({x:fx(1064), y:fy(427), text:'log2(PDCD1 TPM)', font:{size:15, color:'#222'}});
ann({x:fx(857), y:fy(230), text:'log2(IFNG TPM)', textangle:-90, font:{size:15, color:'#222'}});
ann({x:fx(923), y:fy(96), xanchor:'left', text:'p−value<span style="font-size:12px">&lt;0.001</span>', font:{size:14, color:'#222'}});
ann({x:fx(923), y:fy(114), xanchor:'left', text:'R = 0.36', font:{size:14, color:'#222'}});

// ---------- Panel B: bar charts ----------
barCfg.forEach((c,i) => {
  const d = barData[i], xa='x'+c.n, ya='y'+c.n;
  [0,1].forEach(g => {
    traces.push({type:'bar', x:[g], y:[d.mean[g]], width:0.68, xaxis:xa, yaxis:ya,
      marker:{color:'#fff', line:{color:c.col[g], width:3.5}},
      error_y:{type:'data', array:[d.sd[g]], visible:true, color:c.col[g], thickness:3.5, width:25}, hoverinfo:'skip'});
  });
  traces.push({type:'scatter', mode:'markers', x:d.nr.map((v,k)=>jit[i].nr[k]), y:d.nr, xaxis:xa, yaxis:ya, cliponaxis:false,
    marker:{symbol:'circle', size:10, color:c.col[0]}, hoverinfo:'skip'});
  traces.push({type:'scatter', mode:'markers', x:d.r.map((v,k)=>1+jit[i].r[k]), y:d.r, xaxis:xa, yaxis:ya, cliponaxis:false,
    marker:{symbol:'square', size:9, color:c.col[1]}, hoverinfo:'skip'});
  layout['xaxis'+c.n] = {domain:[fx(c.xd[0]),fx(c.xd[1])], anchor:ya, range:c.xr, tickvals:[0,1], ticktext:groups,
    showline:true, linecolor:'#000', linewidth:3, ticks:'outside', ticklen:6, tickwidth:3, tickcolor:'#000', showgrid:false, zeroline:false,
    tickfont:{size:17, weight:'bold', color:'#111'}, fixedrange:true};
  layout['yaxis'+c.n] = {domain:[fy(c.yd[1]),fy(c.yd[0])], anchor:xa, range:c.yr, dtick:c.dt, tick0:0,
    showline:true, linecolor:'#000', linewidth:3, ticks:'outside', ticklen:7, tickwidth:3, tickcolor:'#000', showgrid:false, zeroline:false,
    tickfont:{size:18, weight:'bold', color:'#111'}, fixedrange:true};
  layout.shapes.push({type:'line', xref:xa, yref:ya, x0:c.sx[0], x1:c.sx[1], y0:d.sigY, y1:d.sigY, line:{color:'#000', width:3.5}});
  layout.annotations.push({xref:xa, yref:ya, x:(c.sx[0]+c.sx[1])/2, y:d.sigY, xanchor:'center', yanchor:'bottom', yshift:1, showarrow:false,
    text:sigLabels[i], font:{size:18, weight:'bold'}});
  ann({x:fx(c.tt[0]), y:fy(c.tt[1]), text:yTitles[i], textangle:-90, font:{size:18, weight:'bold', color:'#111'}});
});

// panel letters
ann({x:fx(12), y:fy(18), text:'A', font:{size:23, weight:'bold'}});
ann({x:fx(12), y:fy(512), text:'B', font:{size:23, weight:'bold'}});
ann({x:fx(818), y:fy(15), text:'C', font:{size:23, weight:'bold'}});

layout.barmode = 'overlay';
Plotly.newPlot('chart', traces, layout, {staticPlot:true, displayModeBar:false});
</script>
</body></html>
